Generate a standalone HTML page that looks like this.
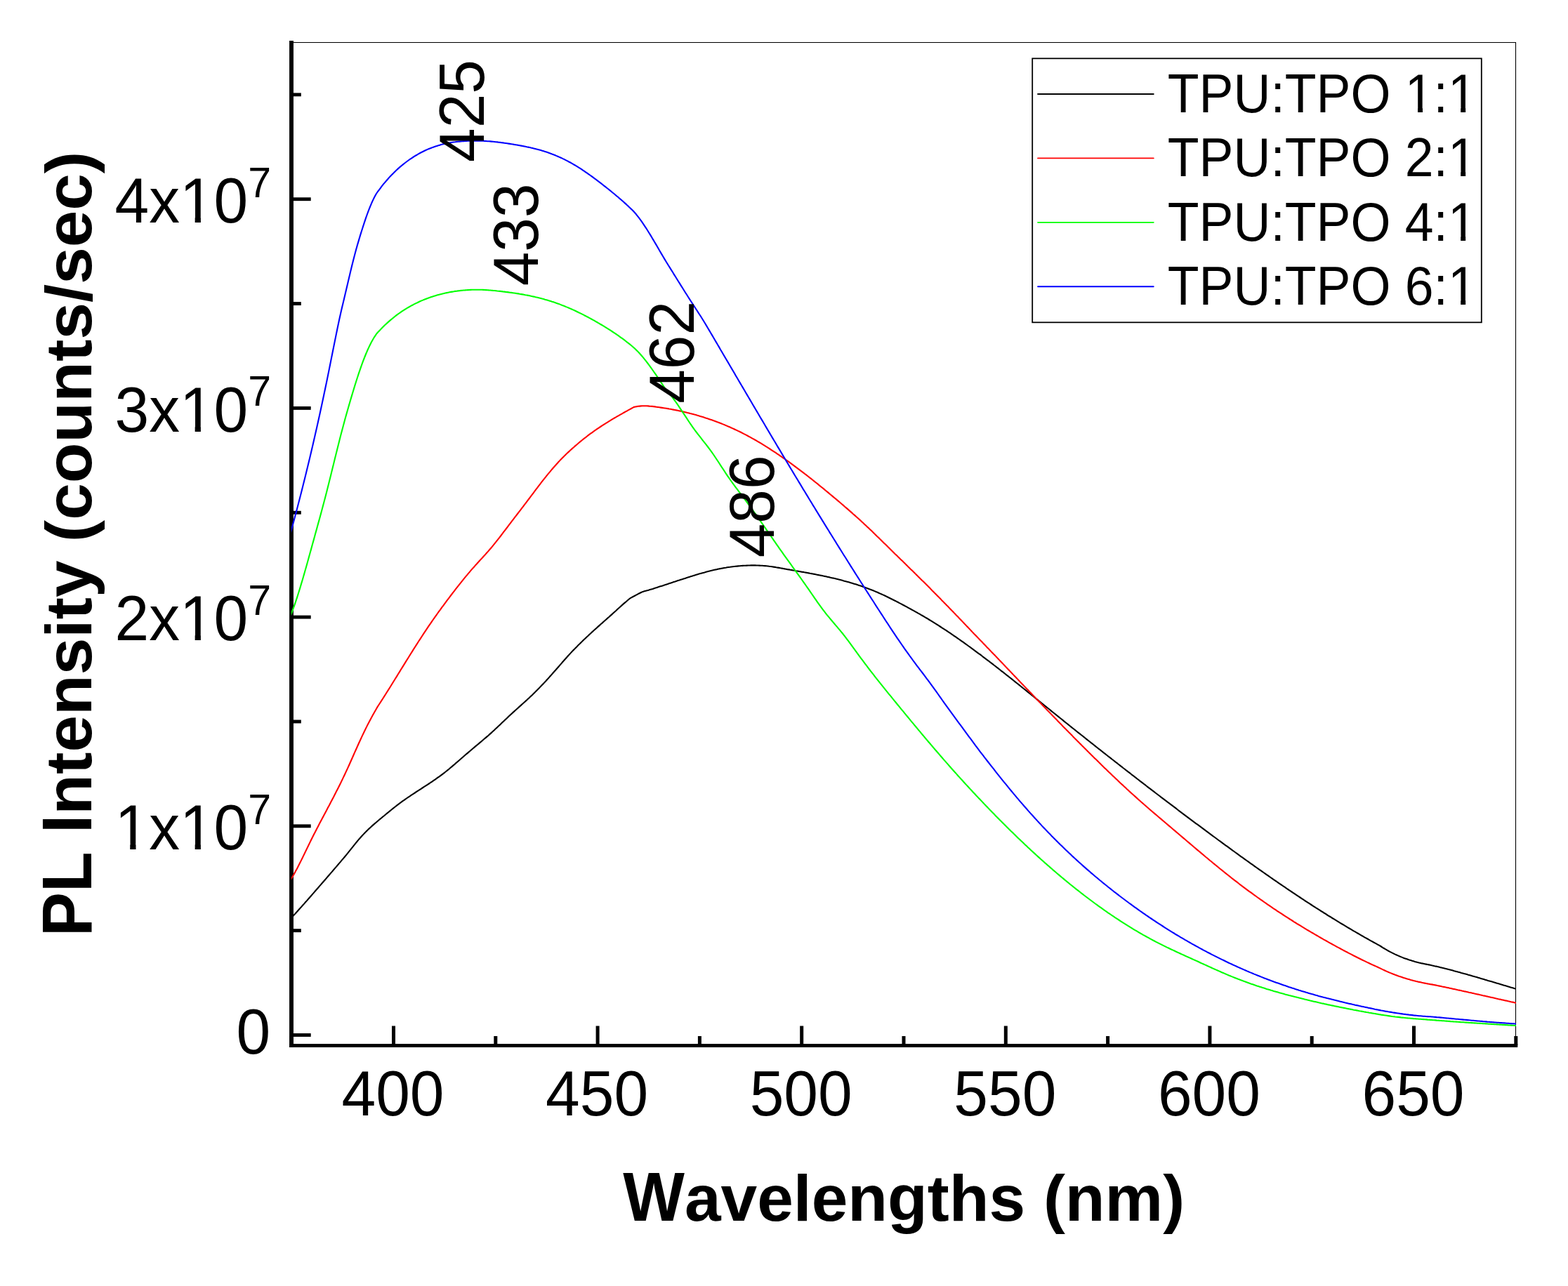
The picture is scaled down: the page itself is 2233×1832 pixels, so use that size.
<!DOCTYPE html>
<html lang="en"><head><meta charset="utf-8"><title>PL Intensity vs Wavelengths</title>
<style>html,body{margin:0;padding:0;background:#fff;}body{width:2233px;height:1832px;overflow:hidden;}svg{display:block;}text{font-family:"Liberation Sans",Arial,Helvetica,sans-serif;fill:#000;font-kerning:none;}.b{font-weight:bold;}</style></head><body>
<svg xmlns="http://www.w3.org/2000/svg" width="2233" height="1832" viewBox="0 0 2233 1832">
<rect x="0" y="0" width="2233" height="1832" fill="#fff"/>
<rect x="415" y="60" width="1744" height="1.05" fill="#000"/>
<rect x="2157.95" y="60" width="1.1" height="1430" fill="#000"/>
<g stroke="#000" fill="none">
<rect x="412.05" y="58" width="5.9" height="1434" fill="#000" stroke="none"/>
<rect x="412.05" y="1487.05" width="1749.2" height="4.9" fill="#000" stroke="none"/>
<line x1="415.0" y1="1474.50" x2="442.7" y2="1474.50" stroke-width="4.9"/>
<line x1="415.0" y1="1325.65" x2="428.8" y2="1325.65" stroke-width="4.9"/>
<line x1="415.0" y1="1176.80" x2="442.7" y2="1176.80" stroke-width="4.9"/>
<line x1="415.0" y1="1027.95" x2="428.8" y2="1027.95" stroke-width="4.9"/>
<line x1="415.0" y1="879.10" x2="442.7" y2="879.10" stroke-width="4.9"/>
<line x1="415.0" y1="730.25" x2="428.8" y2="730.25" stroke-width="4.9"/>
<line x1="415.0" y1="581.40" x2="442.7" y2="581.40" stroke-width="4.9"/>
<line x1="415.0" y1="432.55" x2="428.8" y2="432.55" stroke-width="4.9"/>
<line x1="415.0" y1="283.70" x2="442.7" y2="283.70" stroke-width="4.9"/>
<line x1="415.0" y1="134.85" x2="428.8" y2="134.85" stroke-width="4.9"/>
<line x1="415.20" y1="1476" x2="415.20" y2="1489.5" stroke-width="5"/>
<line x1="560.50" y1="1461.5" x2="560.50" y2="1489.5" stroke-width="5"/>
<line x1="705.80" y1="1476" x2="705.80" y2="1489.5" stroke-width="5"/>
<line x1="851.10" y1="1461.5" x2="851.10" y2="1489.5" stroke-width="5"/>
<line x1="996.40" y1="1476" x2="996.40" y2="1489.5" stroke-width="5"/>
<line x1="1141.70" y1="1461.5" x2="1141.70" y2="1489.5" stroke-width="5"/>
<line x1="1287.00" y1="1476" x2="1287.00" y2="1489.5" stroke-width="5"/>
<line x1="1432.30" y1="1461.5" x2="1432.30" y2="1489.5" stroke-width="5"/>
<line x1="1577.60" y1="1476" x2="1577.60" y2="1489.5" stroke-width="5"/>
<line x1="1722.90" y1="1461.5" x2="1722.90" y2="1489.5" stroke-width="5"/>
<line x1="1868.20" y1="1476" x2="1868.20" y2="1489.5" stroke-width="5"/>
<line x1="2013.50" y1="1461.5" x2="2013.50" y2="1489.5" stroke-width="5"/>
<line x1="2158.80" y1="1476" x2="2158.80" y2="1489.5" stroke-width="5"/>
</g>
<clipPath id="plotclip"><rect x="415" y="55" width="1744" height="1440"/></clipPath>
<g fill="none" stroke-width="2.1" stroke-linejoin="round" clip-path="url(#plotclip)">
<path d="M411.0,1311.8 L415.0,1307.5 L417.0,1305.3 L419.0,1303.1 L421.0,1301.0 L423.0,1298.8 L425.0,1296.5 L427.0,1294.3 L429.0,1292.1 L431.0,1289.8 L433.0,1287.6 L435.0,1285.3 L437.0,1283.1 L439.0,1280.8 L441.0,1278.5 L443.0,1276.2 L445.0,1273.9 L447.0,1271.6 L449.0,1269.3 L451.0,1267.0 L453.0,1264.7 L455.0,1262.4 L457.0,1260.1 L459.0,1257.8 L461.0,1255.5 L463.0,1253.2 L465.0,1250.8 L467.0,1248.5 L469.0,1246.2 L471.0,1243.9 L473.0,1241.6 L475.0,1239.3 L477.0,1236.9 L479.0,1234.6 L481.0,1232.3 L483.0,1229.9 L485.0,1227.6 L487.0,1225.2 L489.0,1222.9 L491.0,1220.5 L493.0,1218.1 L495.0,1215.6 L497.0,1213.2 L499.0,1210.7 L501.0,1208.2 L503.0,1205.7 L505.0,1203.2 L507.0,1200.6 L507.5,1200.0 L509.5,1197.6 L511.5,1195.2 L513.5,1193.0 L515.5,1190.7 L517.5,1188.6 L519.5,1186.5 L521.5,1184.5 L523.5,1182.5 L525.5,1180.6 L527.5,1178.8 L529.5,1176.9 L531.5,1175.1 L533.5,1173.4 L535.5,1171.7 L537.5,1170.0 L539.5,1168.3 L541.5,1166.6 L543.5,1165.0 L545.5,1163.3 L547.5,1161.7 L549.5,1160.0 L551.5,1158.4 L553.5,1156.8 L555.5,1155.1 L557.5,1153.5 L559.5,1151.9 L561.5,1150.3 L563.5,1148.7 L565.5,1147.1 L567.5,1145.6 L569.5,1144.1 L571.5,1142.7 L573.5,1141.2 L575.5,1139.8 L577.5,1138.4 L579.5,1137.0 L581.5,1135.6 L583.5,1134.3 L585.5,1132.9 L587.5,1131.6 L589.5,1130.3 L591.5,1129.0 L593.5,1127.7 L595.5,1126.4 L597.5,1125.1 L599.5,1123.8 L601.5,1122.5 L603.5,1121.2 L605.5,1119.9 L607.5,1118.6 L609.5,1117.3 L611.5,1116.0 L613.5,1114.6 L615.5,1113.3 L617.5,1111.9 L619.5,1110.6 L621.5,1109.2 L623.5,1107.7 L625.5,1106.3 L627.5,1104.8 L629.5,1103.3 L631.5,1101.8 L633.5,1100.3 L635.5,1098.7 L637.5,1097.1 L639.5,1095.5 L641.5,1093.8 L643.5,1092.1 L645.5,1090.4 L647.5,1088.7 L649.5,1086.9 L651.5,1085.2 L653.5,1083.5 L655.5,1081.7 L657.5,1080.0 L659.5,1078.3 L661.5,1076.5 L663.5,1074.8 L665.5,1073.1 L667.5,1071.4 L669.5,1069.7 L671.5,1068.0 L673.5,1066.3 L675.5,1064.6 L677.5,1062.9 L679.5,1061.2 L681.5,1059.6 L683.5,1057.9 L685.5,1056.2 L687.5,1054.5 L689.5,1052.8 L691.5,1051.1 L693.5,1049.4 L695.5,1047.7 L697.5,1045.9 L699.5,1044.1 L701.5,1042.3 L703.5,1040.5 L705.5,1038.6 L707.5,1036.7 L709.5,1034.8 L711.5,1032.9 L713.5,1031.0 L715.5,1029.1 L717.5,1027.2 L719.5,1025.3 L721.5,1023.4 L723.5,1021.5 L725.5,1019.6 L727.5,1017.8 L729.5,1015.9 L731.5,1014.1 L733.5,1012.3 L735.5,1010.5 L737.5,1008.7 L739.5,1006.9 L741.5,1005.1 L743.5,1003.3 L745.5,1001.5 L747.5,999.7 L749.5,997.9 L751.5,996.0 L753.5,994.2 L755.5,992.3 L757.5,990.4 L759.5,988.4 L761.5,986.5 L763.5,984.5 L765.5,982.5 L767.5,980.5 L769.5,978.4 L771.5,976.3 L773.5,974.2 L775.5,972.1 L777.5,970.0 L779.5,967.8 L781.5,965.6 L783.5,963.3 L785.5,961.1 L787.5,958.8 L789.5,956.5 L791.5,954.3 L793.5,952.0 L795.5,949.7 L797.5,947.4 L799.5,945.1 L801.5,942.8 L803.5,940.5 L805.5,938.2 L807.5,936.0 L809.5,933.8 L811.5,931.6 L813.5,929.4 L815.5,927.3 L817.5,925.2 L819.5,923.2 L821.5,921.2 L823.5,919.1 L825.5,917.2 L827.5,915.2 L829.5,913.3 L831.5,911.3 L833.5,909.4 L835.5,907.5 L837.5,905.7 L839.5,903.8 L841.5,902.0 L843.5,900.1 L845.5,898.3 L847.5,896.5 L849.5,894.7 L851.5,892.9 L853.5,891.1 L855.5,889.3 L857.5,887.6 L859.5,885.8 L861.5,884.0 L863.5,882.2 L865.5,880.4 L867.5,878.7 L869.5,876.9 L871.5,875.1 L873.5,873.3 L875.5,871.5 L877.5,869.7 L879.5,867.8 L881.5,866.0 L883.5,864.2 L885.5,862.4 L887.5,860.6 L889.5,858.9 L891.5,857.2 L893.5,855.5 L895.5,853.8 L897.5,852.2 L899.5,851.1 L901.5,850.0 L903.5,849.0 L905.5,847.9 L907.5,846.8 L909.5,845.7 L911.5,844.7 L913.5,843.7 L915.5,842.9 L917.5,842.3 L919.5,841.7 L921.5,841.2 L923.5,840.7 L925.5,840.1 L927.5,839.5 L929.5,838.9 L931.5,838.2 L933.5,837.6 L935.5,836.9 L937.5,836.2 L939.5,835.6 L941.5,835.0 L943.5,834.4 L945.5,833.7 L947.5,833.1 L949.5,832.4 L951.5,831.8 L953.5,831.1 L955.5,830.4 L957.5,829.8 L959.5,829.1 L961.5,828.5 L963.5,827.8 L965.5,827.1 L967.5,826.5 L969.5,825.8 L971.5,825.2 L973.5,824.5 L975.5,823.9 L977.5,823.2 L979.5,822.6 L981.5,821.9 L983.5,821.3 L985.5,820.7 L987.5,820.1 L989.5,819.4 L991.5,818.8 L993.5,818.2 L995.5,817.6 L997.5,817.1 L999.5,816.5 L1001.5,815.9 L1003.5,815.4 L1005.5,814.8 L1007.5,814.3 L1009.5,813.8 L1011.5,813.3 L1013.5,812.8 L1015.5,812.3 L1017.5,811.8 L1019.5,811.4 L1021.5,810.9 L1023.5,810.5 L1025.5,810.1 L1027.5,809.7 L1029.5,809.4 L1031.5,809.0 L1033.5,808.7 L1035.5,808.3 L1037.5,808.0 L1039.5,807.8 L1041.5,807.5 L1043.5,807.2 L1045.5,807.0 L1047.5,806.8 L1049.5,806.6 L1051.5,806.4 L1053.5,806.2 L1055.5,806.0 L1057.5,805.9 L1059.5,805.8 L1061.5,805.7 L1063.5,805.6 L1065.5,805.5 L1067.5,805.5 L1069.5,805.4 L1071.5,805.4 L1073.5,805.4 L1075.5,805.4 L1077.5,805.5 L1079.5,805.5 L1081.5,805.6 L1083.5,805.7 L1085.5,805.8 L1087.5,806.0 L1089.5,806.1 L1091.5,806.3 L1093.5,806.5 L1095.5,806.8 L1097.5,807.0 L1099.5,807.3 L1101.5,807.6 L1103.5,807.9 L1105.5,808.3 L1107.5,808.6 L1109.5,808.9 L1111.5,809.3 L1113.5,809.6 L1115.5,810.0 L1117.5,810.4 L1119.5,810.7 L1121.5,811.1 L1123.5,811.4 L1125.5,811.8 L1127.5,812.1 L1129.5,812.5 L1131.5,812.8 L1133.5,813.2 L1135.5,813.5 L1137.5,813.9 L1139.5,814.2 L1141.5,814.6 L1143.5,814.9 L1145.5,815.3 L1147.5,815.6 L1149.5,816.0 L1151.5,816.4 L1153.5,816.8 L1155.5,817.1 L1157.5,817.5 L1159.5,817.9 L1161.5,818.3 L1163.5,818.7 L1165.5,819.1 L1167.5,819.5 L1169.5,819.9 L1171.5,820.3 L1173.5,820.7 L1175.5,821.1 L1177.5,821.6 L1179.5,822.0 L1181.5,822.4 L1183.5,822.9 L1185.5,823.4 L1187.5,823.8 L1189.5,824.3 L1191.5,824.8 L1193.5,825.3 L1195.5,825.8 L1197.5,826.3 L1199.5,826.8 L1201.5,827.4 L1203.5,827.9 L1205.5,828.4 L1207.5,829.0 L1209.5,829.6 L1211.5,830.2 L1213.5,830.8 L1215.5,831.4 L1217.5,832.0 L1219.5,832.6 L1221.5,833.3 L1223.5,833.9 L1225.5,834.6 L1227.5,835.3 L1229.5,836.0 L1231.5,836.7 L1233.5,837.4 L1235.5,838.2 L1237.5,839.0 L1239.5,839.7 L1241.5,840.5 L1243.5,841.3 L1245.5,842.1 L1247.5,843.0 L1249.5,843.8 L1251.5,844.7 L1253.5,845.6 L1255.5,846.5 L1257.5,847.4 L1259.5,848.3 L1261.5,849.3 L1263.5,850.2 L1265.5,851.2 L1267.5,852.2 L1269.5,853.2 L1271.5,854.2 L1273.5,855.2 L1275.5,856.2 L1277.5,857.3 L1279.5,858.3 L1281.5,859.4 L1283.5,860.4 L1285.5,861.5 L1287.5,862.5 L1289.5,863.6 L1291.5,864.7 L1293.5,865.8 L1295.5,866.9 L1297.5,868.0 L1299.5,869.1 L1301.5,870.2 L1303.5,871.3 L1305.5,872.4 L1307.5,873.6 L1309.5,874.7 L1311.5,875.9 L1313.5,877.0 L1315.5,878.2 L1317.5,879.4 L1319.5,880.5 L1321.5,881.7 L1323.5,883.0 L1325.5,884.2 L1327.5,885.4 L1329.5,886.6 L1331.5,887.9 L1333.5,889.1 L1335.5,890.4 L1337.5,891.7 L1339.5,893.0 L1341.5,894.3 L1343.5,895.6 L1345.5,896.9 L1347.5,898.2 L1349.5,899.5 L1351.5,900.9 L1353.5,902.2 L1355.5,903.6 L1357.5,905.0 L1359.5,906.3 L1361.5,907.7 L1363.5,909.1 L1365.5,910.5 L1367.5,911.9 L1369.5,913.3 L1371.5,914.7 L1373.5,916.2 L1375.5,917.6 L1377.5,919.0 L1379.5,920.5 L1381.5,921.9 L1383.5,923.4 L1385.5,924.8 L1387.5,926.3 L1389.5,927.8 L1391.5,929.3 L1393.5,930.8 L1395.5,932.2 L1397.5,933.7 L1399.5,935.3 L1401.5,936.8 L1403.5,938.3 L1405.5,939.8 L1407.5,941.3 L1409.5,942.9 L1411.5,944.4 L1413.5,945.9 L1415.5,947.5 L1417.5,949.0 L1419.5,950.6 L1421.5,952.1 L1423.5,953.7 L1425.5,955.3 L1427.5,956.8 L1429.5,958.4 L1431.5,960.0 L1433.5,961.6 L1435.5,963.1 L1437.5,964.7 L1439.5,966.3 L1441.5,967.9 L1443.5,969.5 L1445.5,971.1 L1447.5,972.7 L1449.5,974.3 L1451.5,975.9 L1453.5,977.5 L1455.5,979.1 L1457.5,980.7 L1459.5,982.3 L1461.5,983.9 L1463.5,985.6 L1465.5,987.2 L1467.5,988.8 L1469.5,990.4 L1471.5,992.0 L1473.5,993.6 L1475.5,995.3 L1477.5,996.9 L1479.5,998.5 L1481.5,1000.1 L1483.5,1001.7 L1485.5,1003.4 L1487.5,1005.0 L1489.5,1006.6 L1491.5,1008.2 L1493.5,1009.8 L1495.5,1011.4 L1497.5,1013.1 L1499.5,1014.7 L1501.5,1016.3 L1503.5,1017.9 L1505.5,1019.5 L1507.5,1021.1 L1509.5,1022.7 L1511.5,1024.3 L1513.5,1025.9 L1515.5,1027.6 L1517.5,1029.2 L1519.5,1030.8 L1521.5,1032.4 L1523.5,1034.0 L1525.5,1035.6 L1527.5,1037.2 L1529.5,1038.8 L1531.5,1040.4 L1533.5,1042.0 L1535.5,1043.6 L1537.5,1045.1 L1539.5,1046.7 L1541.5,1048.3 L1543.5,1049.9 L1545.5,1051.5 L1547.5,1053.1 L1549.5,1054.7 L1551.5,1056.3 L1553.5,1057.9 L1555.5,1059.4 L1557.5,1061.0 L1559.5,1062.6 L1561.5,1064.2 L1563.5,1065.8 L1565.5,1067.3 L1567.5,1068.9 L1569.5,1070.5 L1571.5,1072.1 L1573.5,1073.6 L1575.5,1075.2 L1577.5,1076.8 L1579.5,1078.3 L1581.5,1079.9 L1583.5,1081.5 L1585.5,1083.0 L1587.5,1084.6 L1589.5,1086.2 L1591.5,1087.7 L1593.5,1089.3 L1595.5,1090.9 L1597.5,1092.4 L1599.5,1094.0 L1601.5,1095.5 L1603.5,1097.1 L1605.5,1098.6 L1607.5,1100.2 L1609.5,1101.7 L1611.5,1103.3 L1613.5,1104.8 L1615.5,1106.4 L1617.5,1107.9 L1619.5,1109.5 L1621.5,1111.0 L1623.5,1112.6 L1625.5,1114.1 L1627.5,1115.6 L1629.5,1117.2 L1631.5,1118.7 L1633.5,1120.3 L1635.5,1121.8 L1637.5,1123.3 L1639.5,1124.9 L1641.5,1126.4 L1643.5,1127.9 L1645.5,1129.5 L1647.5,1131.0 L1649.5,1132.5 L1651.5,1134.0 L1653.5,1135.6 L1655.5,1137.1 L1657.5,1138.6 L1659.5,1140.1 L1661.5,1141.6 L1663.5,1143.2 L1665.5,1144.7 L1667.5,1146.2 L1669.5,1147.7 L1671.5,1149.2 L1673.5,1150.7 L1675.5,1152.2 L1677.5,1153.8 L1679.5,1155.3 L1681.5,1156.8 L1683.5,1158.3 L1685.5,1159.8 L1687.5,1161.3 L1689.5,1162.8 L1691.5,1164.3 L1693.5,1165.8 L1695.5,1167.3 L1697.5,1168.8 L1699.5,1170.3 L1701.5,1171.8 L1703.5,1173.3 L1705.5,1174.7 L1707.5,1176.2 L1709.5,1177.7 L1711.5,1179.2 L1713.5,1180.7 L1715.5,1182.2 L1717.5,1183.7 L1719.5,1185.1 L1721.5,1186.6 L1723.5,1188.1 L1725.5,1189.6 L1727.5,1191.1 L1729.5,1192.5 L1731.5,1194.0 L1733.5,1195.5 L1735.5,1197.0 L1737.5,1198.4 L1739.5,1199.9 L1741.5,1201.4 L1743.5,1202.8 L1745.5,1204.3 L1747.5,1205.7 L1749.5,1207.2 L1751.5,1208.7 L1753.5,1210.1 L1755.5,1211.6 L1757.5,1213.0 L1759.5,1214.5 L1761.5,1215.9 L1763.5,1217.4 L1765.5,1218.8 L1767.5,1220.3 L1769.5,1221.7 L1771.5,1223.1 L1773.5,1224.6 L1775.5,1226.0 L1777.5,1227.4 L1779.5,1228.9 L1781.5,1230.3 L1783.5,1231.7 L1785.5,1233.1 L1787.5,1234.6 L1789.5,1236.0 L1791.5,1237.4 L1793.5,1238.8 L1795.5,1240.2 L1797.5,1241.6 L1799.5,1243.0 L1801.5,1244.4 L1803.5,1245.8 L1805.5,1247.2 L1807.5,1248.6 L1809.5,1250.0 L1811.5,1251.4 L1813.5,1252.8 L1815.5,1254.2 L1817.5,1255.5 L1819.5,1256.9 L1821.5,1258.3 L1823.5,1259.7 L1825.5,1261.0 L1827.5,1262.4 L1829.5,1263.7 L1831.5,1265.1 L1833.5,1266.5 L1835.5,1267.8 L1837.5,1269.2 L1839.5,1270.5 L1841.5,1271.8 L1843.5,1273.2 L1845.5,1274.5 L1847.5,1275.9 L1849.5,1277.2 L1851.5,1278.5 L1853.5,1279.8 L1855.5,1281.1 L1857.5,1282.5 L1859.5,1283.8 L1861.5,1285.1 L1863.5,1286.4 L1865.5,1287.7 L1867.5,1289.0 L1869.5,1290.3 L1871.5,1291.6 L1873.5,1292.9 L1875.5,1294.1 L1877.5,1295.4 L1879.5,1296.7 L1881.5,1298.0 L1883.5,1299.2 L1885.5,1300.5 L1887.5,1301.7 L1889.5,1303.0 L1891.5,1304.3 L1893.5,1305.5 L1895.5,1306.7 L1897.5,1308.0 L1899.5,1309.2 L1901.5,1310.4 L1903.5,1311.7 L1905.5,1312.9 L1907.5,1314.1 L1909.5,1315.3 L1911.5,1316.5 L1913.5,1317.7 L1915.5,1318.9 L1917.5,1320.1 L1919.5,1321.3 L1921.5,1322.5 L1923.5,1323.7 L1925.5,1324.9 L1927.5,1326.1 L1929.5,1327.2 L1931.5,1328.4 L1933.5,1329.5 L1935.5,1330.7 L1937.5,1331.9 L1939.5,1333.0 L1941.5,1334.1 L1943.5,1335.3 L1945.5,1336.4 L1947.5,1337.5 L1949.5,1338.7 L1951.5,1339.8 L1953.5,1340.9 L1955.5,1342.0 L1957.5,1343.1 L1959.5,1344.2 L1961.5,1345.3 L1963.5,1346.4 L1965.0,1347.2 L1967.0,1348.5 L1969.0,1349.8 L1971.0,1351.0 L1973.0,1352.2 L1975.0,1353.3 L1977.0,1354.5 L1979.0,1355.6 L1981.0,1356.6 L1983.0,1357.6 L1985.0,1358.6 L1987.0,1359.6 L1989.0,1360.5 L1991.0,1361.4 L1993.0,1362.3 L1995.0,1363.1 L1997.0,1363.9 L1999.0,1364.7 L2001.0,1365.4 L2003.0,1366.1 L2005.0,1366.8 L2007.0,1367.5 L2009.0,1368.1 L2011.0,1368.7 L2013.0,1369.3 L2015.0,1369.9 L2017.0,1370.4 L2019.0,1371.0 L2021.0,1371.5 L2023.0,1371.9 L2025.0,1372.4 L2027.0,1372.8 L2029.0,1373.2 L2031.0,1373.6 L2033.0,1374.0 L2035.0,1374.4 L2037.0,1374.8 L2039.0,1375.3 L2041.0,1375.7 L2043.0,1376.2 L2045.0,1376.6 L2047.0,1377.1 L2049.0,1377.6 L2051.0,1378.1 L2053.0,1378.5 L2055.0,1379.0 L2057.0,1379.5 L2059.0,1380.0 L2061.0,1380.5 L2063.0,1381.1 L2065.0,1381.6 L2067.0,1382.1 L2069.0,1382.6 L2071.0,1383.2 L2073.0,1383.7 L2075.0,1384.2 L2077.0,1384.8 L2079.0,1385.3 L2081.0,1385.9 L2083.0,1386.4 L2085.0,1387.0 L2087.0,1387.5 L2089.0,1388.1 L2091.0,1388.7 L2093.0,1389.2 L2095.0,1389.8 L2097.0,1390.4 L2099.0,1391.0 L2101.0,1391.6 L2103.0,1392.1 L2105.0,1392.7 L2107.0,1393.3 L2109.0,1393.9 L2111.0,1394.5 L2113.0,1395.1 L2115.0,1395.7 L2117.0,1396.3 L2119.0,1396.9 L2121.0,1397.4 L2123.0,1398.0 L2125.0,1398.6 L2127.0,1399.2 L2129.0,1399.8 L2131.0,1400.4 L2133.0,1401.0 L2135.0,1401.6 L2137.0,1402.2 L2139.0,1402.8 L2141.0,1403.4 L2143.0,1404.0 L2145.0,1404.6 L2147.0,1405.2 L2149.0,1405.8 L2151.0,1406.4 L2153.0,1407.0 L2155.0,1407.6 L2157.0,1408.2 L2158.5,1408.6 L2162.5,1409.8" stroke="#000"/>
<path d="M411.0,1258.1 L415.0,1251.5 L417.0,1248.2 L419.0,1244.7 L421.0,1241.1 L423.0,1237.4 L425.0,1233.5 L427.0,1229.6 L429.0,1225.6 L431.0,1221.5 L433.0,1217.4 L435.0,1213.3 L437.0,1209.1 L439.0,1205.0 L441.0,1200.9 L443.0,1196.8 L445.0,1192.8 L447.0,1188.8 L449.0,1184.9 L451.0,1181.0 L453.0,1177.2 L455.0,1173.3 L457.0,1169.5 L459.0,1165.7 L461.0,1162.0 L463.0,1158.2 L465.0,1154.4 L467.0,1150.6 L469.0,1146.9 L471.0,1143.1 L473.0,1139.2 L475.0,1135.4 L477.0,1131.5 L479.0,1127.6 L481.0,1123.7 L483.0,1119.7 L485.0,1115.7 L487.0,1111.6 L489.0,1107.4 L491.0,1103.2 L493.0,1098.9 L495.0,1094.6 L497.0,1090.2 L499.0,1085.7 L501.0,1081.3 L503.0,1076.8 L505.0,1072.2 L507.0,1067.8 L509.0,1063.3 L511.0,1058.8 L513.0,1054.5 L515.0,1050.1 L517.0,1045.9 L519.0,1041.7 L521.0,1037.6 L523.0,1033.6 L525.0,1029.8 L527.0,1026.0 L529.0,1022.2 L531.0,1018.6 L533.0,1015.0 L535.0,1011.4 L537.0,1007.9 L539.0,1004.8 L541.0,1001.7 L543.0,998.6 L545.0,995.5 L547.0,992.4 L549.0,989.2 L551.0,986.0 L553.0,982.9 L555.0,979.7 L557.0,976.5 L559.0,973.2 L561.0,970.0 L563.0,966.8 L565.0,963.6 L567.0,960.3 L569.0,957.1 L571.0,953.8 L573.0,950.6 L575.0,947.4 L577.0,944.1 L579.0,940.9 L581.0,937.7 L583.0,934.5 L585.0,931.3 L587.0,928.1 L589.0,924.9 L591.0,921.7 L593.0,918.6 L595.0,915.5 L597.0,912.3 L599.0,909.3 L601.0,906.2 L603.0,903.1 L605.0,900.1 L607.0,897.1 L609.0,894.1 L611.0,891.2 L613.0,888.3 L615.0,885.4 L617.0,882.5 L619.0,879.6 L621.0,876.8 L623.0,874.0 L625.0,871.2 L627.0,868.5 L629.0,865.7 L631.0,863.0 L633.0,860.3 L635.0,857.6 L637.0,854.9 L639.0,852.3 L641.0,849.6 L643.0,847.0 L645.0,844.4 L647.0,841.8 L649.0,839.2 L651.0,836.7 L653.0,834.1 L655.0,831.6 L657.0,829.1 L659.0,826.6 L661.0,824.2 L663.0,821.7 L665.0,819.3 L667.0,816.9 L669.0,814.6 L671.0,812.2 L673.0,809.9 L675.0,807.7 L677.0,805.4 L679.0,803.2 L681.0,801.0 L683.0,798.8 L685.0,796.6 L687.0,794.5 L689.0,792.3 L691.0,790.1 L693.0,787.8 L695.0,785.6 L697.0,783.3 L699.0,781.0 L701.0,778.6 L703.0,776.2 L705.0,773.7 L707.0,771.2 L709.0,768.7 L711.0,766.1 L713.0,763.5 L715.0,760.9 L717.0,758.2 L719.0,755.6 L721.0,753.0 L723.0,750.3 L725.0,747.7 L727.0,745.0 L729.0,742.4 L731.0,739.8 L733.0,737.2 L735.0,734.6 L737.0,732.0 L739.0,729.4 L741.0,726.8 L743.0,724.2 L745.0,721.5 L747.0,718.9 L749.0,716.3 L751.0,713.6 L753.0,711.0 L755.0,708.3 L757.0,705.7 L759.0,703.0 L761.0,700.4 L763.0,697.7 L765.0,695.1 L767.0,692.4 L769.0,689.8 L771.0,687.2 L773.0,684.7 L775.0,682.1 L777.0,679.6 L779.0,677.1 L781.0,674.7 L783.0,672.3 L785.0,669.9 L787.0,667.5 L789.0,665.2 L791.0,663.0 L793.0,660.7 L795.0,658.5 L797.0,656.4 L799.0,654.3 L801.0,652.2 L803.0,650.2 L805.0,648.3 L807.0,646.3 L809.0,644.4 L811.0,642.6 L813.0,640.7 L815.0,638.9 L817.0,637.2 L819.0,635.4 L821.0,633.7 L823.0,632.0 L825.0,630.3 L827.0,628.6 L829.0,627.0 L831.0,625.4 L833.0,623.8 L835.0,622.3 L837.0,620.7 L839.0,619.2 L841.0,617.7 L843.0,616.3 L845.0,614.8 L847.0,613.4 L849.0,612.0 L851.0,610.7 L853.0,609.3 L855.0,608.0 L857.0,606.7 L859.0,605.4 L861.0,604.1 L863.0,602.8 L865.0,601.6 L867.0,600.3 L869.0,599.1 L871.0,597.9 L873.0,596.7 L875.0,595.5 L877.0,594.4 L879.0,593.2 L881.0,592.1 L883.0,590.9 L885.0,589.8 L887.0,588.7 L889.0,587.5 L891.0,586.4 L893.0,585.3 L895.0,584.2 L897.0,583.1 L899.0,582.0 L901.0,580.9 L902.8,579.9 L904.8,579.5 L906.8,579.1 L908.8,578.8 L910.8,578.6 L912.8,578.4 L914.8,578.3 L916.8,578.2 L918.8,578.2 L920.8,578.3 L922.8,578.4 L924.8,578.6 L926.8,578.7 L928.8,578.9 L930.8,579.1 L932.8,579.4 L934.8,579.7 L936.8,580.0 L937.0,580.0 L939.0,580.3 L941.0,580.6 L943.0,580.9 L945.0,581.2 L947.0,581.5 L949.0,581.8 L951.0,582.1 L953.0,582.5 L955.0,582.8 L957.0,583.2 L959.0,583.6 L961.0,584.0 L963.0,584.4 L965.0,584.8 L967.0,585.2 L969.0,585.6 L971.0,586.1 L973.0,586.5 L975.0,587.0 L977.0,587.5 L979.0,588.0 L981.0,588.4 L983.0,589.0 L985.0,589.5 L987.0,590.0 L989.0,590.6 L991.0,591.1 L993.0,591.7 L995.0,592.3 L997.0,592.9 L999.0,593.5 L1001.0,594.1 L1003.0,594.7 L1005.0,595.4 L1007.0,596.0 L1009.0,596.7 L1011.0,597.4 L1013.0,598.1 L1015.0,598.8 L1017.0,599.5 L1019.0,600.2 L1021.0,601.0 L1023.0,601.7 L1025.0,602.5 L1027.0,603.3 L1029.0,604.1 L1031.0,604.9 L1033.0,605.8 L1035.0,606.6 L1037.0,607.5 L1039.0,608.3 L1041.0,609.2 L1043.0,610.1 L1045.0,611.0 L1047.0,612.0 L1049.0,612.9 L1051.0,613.9 L1053.0,614.8 L1055.0,615.8 L1057.0,616.8 L1059.0,617.9 L1061.0,618.9 L1063.0,619.9 L1065.0,621.0 L1067.0,622.1 L1069.0,623.2 L1071.0,624.3 L1073.0,625.4 L1075.0,626.5 L1077.0,627.7 L1079.0,628.9 L1081.0,630.0 L1083.0,631.2 L1085.0,632.4 L1087.0,633.7 L1089.0,634.9 L1091.0,636.2 L1093.0,637.4 L1095.0,638.7 L1097.0,640.0 L1099.0,641.3 L1101.0,642.6 L1103.0,643.9 L1105.0,645.2 L1107.0,646.6 L1109.0,647.9 L1111.0,649.3 L1113.0,650.7 L1115.0,652.1 L1117.0,653.5 L1119.0,654.9 L1121.0,656.3 L1123.0,657.7 L1125.0,659.2 L1127.0,660.6 L1129.0,662.1 L1131.0,663.6 L1133.0,665.1 L1135.0,666.6 L1137.0,668.1 L1139.0,669.6 L1141.0,671.1 L1143.0,672.6 L1145.0,674.1 L1147.0,675.7 L1149.0,677.2 L1151.0,678.8 L1153.0,680.4 L1155.0,681.9 L1157.0,683.5 L1159.0,685.1 L1161.0,686.7 L1163.0,688.3 L1165.0,689.9 L1167.0,691.6 L1169.0,693.2 L1171.0,694.8 L1173.0,696.4 L1175.0,698.1 L1177.0,699.7 L1179.0,701.4 L1181.0,703.1 L1183.0,704.7 L1185.0,706.4 L1187.0,708.1 L1189.0,709.7 L1191.0,711.4 L1193.0,713.1 L1195.0,714.8 L1197.0,716.5 L1199.0,718.2 L1201.0,719.9 L1203.0,721.7 L1205.0,723.4 L1207.0,725.1 L1209.0,726.9 L1211.0,728.6 L1213.0,730.4 L1215.0,732.2 L1217.0,733.9 L1219.0,735.7 L1221.0,737.5 L1223.0,739.3 L1225.0,741.1 L1227.0,743.0 L1229.0,744.8 L1231.0,746.7 L1233.0,748.5 L1235.0,750.4 L1237.0,752.3 L1239.0,754.2 L1241.0,756.1 L1243.0,758.0 L1245.0,760.0 L1247.0,761.9 L1249.0,763.9 L1251.0,765.8 L1253.0,767.8 L1255.0,769.7 L1257.0,771.7 L1259.0,773.7 L1261.0,775.6 L1263.0,777.6 L1265.0,779.6 L1267.0,781.5 L1269.0,783.5 L1271.0,785.4 L1273.0,787.4 L1275.0,789.4 L1277.0,791.3 L1279.0,793.3 L1281.0,795.2 L1283.0,797.2 L1285.0,799.1 L1287.0,801.1 L1289.0,803.0 L1291.0,805.0 L1293.0,807.0 L1295.0,808.9 L1297.0,810.9 L1299.0,812.8 L1301.0,814.8 L1303.0,816.8 L1305.0,818.7 L1307.0,820.7 L1309.0,822.7 L1311.0,824.7 L1313.0,826.7 L1315.0,828.6 L1317.0,830.6 L1319.0,832.6 L1321.0,834.6 L1323.0,836.6 L1325.0,838.6 L1327.0,840.7 L1329.0,842.7 L1331.0,844.7 L1333.0,846.7 L1335.0,848.8 L1337.0,850.8 L1339.0,852.8 L1341.0,854.9 L1343.0,856.9 L1345.0,859.0 L1347.0,861.0 L1349.0,863.1 L1351.0,865.1 L1353.0,867.2 L1355.0,869.3 L1357.0,871.3 L1359.0,873.4 L1361.0,875.5 L1363.0,877.6 L1365.0,879.6 L1367.0,881.7 L1369.0,883.8 L1371.0,885.9 L1373.0,888.0 L1375.0,890.1 L1377.0,892.2 L1379.0,894.3 L1381.0,896.4 L1383.0,898.5 L1385.0,900.6 L1387.0,902.7 L1389.0,904.7 L1391.0,906.8 L1393.0,908.9 L1395.0,911.0 L1397.0,913.1 L1399.0,915.1 L1401.0,917.2 L1403.0,919.3 L1405.0,921.4 L1407.0,923.4 L1409.0,925.5 L1411.0,927.6 L1413.0,929.7 L1415.0,931.8 L1417.0,933.8 L1419.0,935.9 L1421.0,938.0 L1423.0,940.1 L1425.0,942.2 L1427.0,944.3 L1429.0,946.4 L1431.0,948.5 L1433.0,950.6 L1435.0,952.7 L1437.0,954.8 L1439.0,956.9 L1441.0,959.0 L1443.0,961.1 L1445.0,963.2 L1447.0,965.3 L1449.0,967.4 L1451.0,969.5 L1453.0,971.6 L1455.0,973.7 L1457.0,975.8 L1459.0,977.9 L1461.0,980.0 L1463.0,982.1 L1465.0,984.1 L1467.0,986.2 L1469.0,988.3 L1471.0,990.4 L1473.0,992.5 L1475.0,994.6 L1477.0,996.7 L1479.0,998.7 L1481.0,1000.8 L1483.0,1002.9 L1485.0,1005.0 L1487.0,1007.0 L1489.0,1009.1 L1491.0,1011.2 L1493.0,1013.3 L1495.0,1015.3 L1497.0,1017.4 L1499.0,1019.5 L1501.0,1021.5 L1503.0,1023.6 L1505.0,1025.6 L1507.0,1027.7 L1509.0,1029.8 L1511.0,1031.8 L1513.0,1033.9 L1515.0,1035.9 L1517.0,1037.9 L1519.0,1040.0 L1521.0,1042.0 L1523.0,1044.1 L1525.0,1046.1 L1527.0,1048.1 L1529.0,1050.2 L1531.0,1052.2 L1533.0,1054.2 L1535.0,1056.2 L1537.0,1058.2 L1539.0,1060.2 L1541.0,1062.3 L1543.0,1064.3 L1545.0,1066.3 L1547.0,1068.3 L1549.0,1070.3 L1551.0,1072.2 L1553.0,1074.2 L1555.0,1076.2 L1557.0,1078.2 L1559.0,1080.2 L1561.0,1082.1 L1563.0,1084.1 L1565.0,1086.1 L1567.0,1088.0 L1569.0,1090.0 L1571.0,1091.9 L1573.0,1093.9 L1575.0,1095.8 L1577.0,1097.7 L1579.0,1099.7 L1581.0,1101.6 L1583.0,1103.5 L1585.0,1105.4 L1587.0,1107.3 L1589.0,1109.2 L1591.0,1111.1 L1593.0,1113.0 L1595.0,1114.9 L1597.0,1116.8 L1599.0,1118.6 L1601.0,1120.5 L1603.0,1122.3 L1605.0,1124.2 L1607.0,1126.0 L1609.0,1127.9 L1611.0,1129.7 L1613.0,1131.5 L1615.0,1133.3 L1617.0,1135.1 L1619.0,1136.9 L1621.0,1138.7 L1623.0,1140.5 L1625.0,1142.3 L1627.0,1144.0 L1629.0,1145.8 L1631.0,1147.5 L1633.0,1149.3 L1635.0,1151.0 L1637.0,1152.8 L1639.0,1154.5 L1641.0,1156.2 L1643.0,1157.9 L1645.0,1159.6 L1647.0,1161.3 L1649.0,1163.0 L1651.0,1164.7 L1653.0,1166.4 L1655.0,1168.1 L1657.0,1169.8 L1659.0,1171.5 L1661.0,1173.2 L1663.0,1174.9 L1665.0,1176.6 L1667.0,1178.3 L1669.0,1180.0 L1671.0,1181.7 L1673.0,1183.4 L1675.0,1185.1 L1677.0,1186.8 L1679.0,1188.5 L1681.0,1190.2 L1683.0,1191.9 L1685.0,1193.6 L1687.0,1195.3 L1689.0,1197.0 L1691.0,1198.7 L1693.0,1200.4 L1695.0,1202.1 L1697.0,1203.8 L1699.0,1205.5 L1701.0,1207.2 L1703.0,1208.9 L1705.0,1210.6 L1707.0,1212.3 L1709.0,1213.9 L1711.0,1215.6 L1713.0,1217.3 L1715.0,1219.0 L1717.0,1220.7 L1719.0,1222.3 L1721.0,1224.0 L1723.0,1225.7 L1725.0,1227.3 L1727.0,1229.0 L1729.0,1230.6 L1731.0,1232.3 L1733.0,1233.9 L1735.0,1235.5 L1737.0,1237.2 L1739.0,1238.8 L1741.0,1240.4 L1743.0,1242.0 L1745.0,1243.6 L1747.0,1245.2 L1749.0,1246.8 L1751.0,1248.4 L1753.0,1250.0 L1755.0,1251.6 L1757.0,1253.1 L1759.0,1254.7 L1761.0,1256.2 L1763.0,1257.7 L1765.0,1259.3 L1767.0,1260.8 L1769.0,1262.3 L1771.0,1263.8 L1773.0,1265.3 L1775.0,1266.8 L1777.0,1268.3 L1779.0,1269.8 L1781.0,1271.2 L1783.0,1272.7 L1785.0,1274.2 L1787.0,1275.6 L1789.0,1277.0 L1791.0,1278.5 L1793.0,1279.9 L1795.0,1281.3 L1797.0,1282.7 L1799.0,1284.1 L1801.0,1285.5 L1803.0,1286.9 L1805.0,1288.3 L1807.0,1289.7 L1809.0,1291.0 L1811.0,1292.4 L1813.0,1293.8 L1815.0,1295.1 L1817.0,1296.4 L1819.0,1297.8 L1821.0,1299.1 L1823.0,1300.4 L1825.0,1301.7 L1827.0,1303.0 L1829.0,1304.3 L1831.0,1305.6 L1833.0,1306.9 L1835.0,1308.2 L1837.0,1309.5 L1839.0,1310.7 L1841.0,1312.0 L1843.0,1313.3 L1845.0,1314.5 L1847.0,1315.8 L1849.0,1317.0 L1851.0,1318.2 L1853.0,1319.4 L1855.0,1320.7 L1857.0,1321.9 L1859.0,1323.1 L1861.0,1324.3 L1863.0,1325.5 L1865.0,1326.7 L1867.0,1327.9 L1869.0,1329.0 L1871.0,1330.2 L1873.0,1331.4 L1875.0,1332.5 L1877.0,1333.7 L1879.0,1334.8 L1881.0,1336.0 L1883.0,1337.1 L1885.0,1338.3 L1887.0,1339.4 L1889.0,1340.5 L1891.0,1341.7 L1893.0,1342.8 L1895.0,1343.9 L1897.0,1345.0 L1899.0,1346.1 L1901.0,1347.2 L1903.0,1348.3 L1905.0,1349.4 L1907.0,1350.4 L1909.0,1351.5 L1911.0,1352.6 L1913.0,1353.7 L1915.0,1354.7 L1917.0,1355.8 L1919.0,1356.8 L1921.0,1357.9 L1923.0,1358.9 L1925.0,1359.9 L1927.0,1361.0 L1929.0,1362.0 L1931.0,1363.0 L1933.0,1364.0 L1935.0,1365.0 L1937.0,1366.0 L1939.0,1367.0 L1941.0,1368.0 L1943.0,1368.9 L1945.0,1369.9 L1947.0,1370.9 L1949.0,1371.8 L1951.0,1372.8 L1953.0,1373.7 L1955.0,1374.6 L1957.0,1375.5 L1959.0,1376.4 L1961.0,1377.3 L1963.0,1378.2 L1965.0,1379.1 L1967.0,1380.1 L1969.0,1381.1 L1971.0,1382.0 L1973.0,1383.0 L1975.0,1383.9 L1977.0,1384.7 L1979.0,1385.6 L1981.0,1386.4 L1983.0,1387.2 L1985.0,1388.0 L1987.0,1388.8 L1989.0,1389.5 L1991.0,1390.3 L1993.0,1391.0 L1995.0,1391.6 L1997.0,1392.3 L1999.0,1393.0 L2001.0,1393.6 L2003.0,1394.2 L2005.0,1394.8 L2007.0,1395.3 L2009.0,1395.9 L2011.0,1396.4 L2013.0,1397.0 L2015.0,1397.5 L2017.0,1398.0 L2019.0,1398.4 L2021.0,1398.9 L2023.0,1399.3 L2025.0,1399.8 L2027.0,1400.2 L2029.0,1400.6 L2031.0,1401.0 L2033.0,1401.4 L2035.0,1401.7 L2037.0,1402.1 L2039.0,1402.4 L2040.0,1402.6 L2042.0,1403.0 L2044.0,1403.4 L2046.0,1403.8 L2048.0,1404.2 L2050.0,1404.6 L2052.0,1405.0 L2054.0,1405.5 L2056.0,1405.9 L2058.0,1406.3 L2060.0,1406.7 L2062.0,1407.1 L2064.0,1407.6 L2066.0,1408.0 L2068.0,1408.4 L2070.0,1408.9 L2072.0,1409.3 L2074.0,1409.7 L2076.0,1410.2 L2078.0,1410.6 L2080.0,1411.0 L2082.0,1411.5 L2084.0,1411.9 L2086.0,1412.4 L2088.0,1412.8 L2090.0,1413.2 L2092.0,1413.7 L2094.0,1414.1 L2096.0,1414.6 L2098.0,1415.0 L2100.0,1415.5 L2102.0,1415.9 L2104.0,1416.4 L2106.0,1416.8 L2108.0,1417.3 L2110.0,1417.7 L2112.0,1418.2 L2114.0,1418.6 L2116.0,1419.1 L2118.0,1419.5 L2120.0,1420.0 L2122.0,1420.4 L2124.0,1420.9 L2126.0,1421.3 L2128.0,1421.8 L2130.0,1422.3 L2132.0,1422.7 L2134.0,1423.2 L2136.0,1423.6 L2138.0,1424.1 L2140.0,1424.5 L2142.0,1424.9 L2144.0,1425.4 L2146.0,1425.8 L2148.0,1426.3 L2150.0,1426.7 L2152.0,1427.2 L2154.0,1427.6 L2156.0,1428.1 L2158.0,1428.5 L2158.5,1428.6 L2162.5,1429.5" stroke="#f00"/>
<path d="M411.0,884.6 L415.0,874.0 L417.0,868.7 L419.0,863.2 L421.0,857.3 L423.0,851.3 L425.0,845.0 L427.0,838.6 L429.0,831.9 L431.0,825.2 L433.0,818.3 L435.0,811.3 L437.0,804.2 L439.0,797.0 L441.0,789.8 L443.0,782.6 L445.0,775.3 L447.0,768.1 L449.0,760.8 L451.0,753.6 L453.0,746.3 L455.0,739.1 L457.0,731.7 L459.0,724.3 L461.0,716.8 L463.0,709.2 L465.0,701.4 L467.0,693.5 L469.0,685.5 L471.0,677.4 L473.0,669.3 L475.0,661.2 L477.0,653.0 L479.0,645.0 L481.0,636.9 L483.0,629.0 L485.0,621.1 L487.0,613.4 L489.0,605.9 L491.0,598.5 L493.0,591.3 L495.0,584.2 L497.0,577.3 L499.0,570.4 L501.0,563.6 L503.0,557.0 L505.0,550.4 L507.0,544.0 L509.0,537.8 L511.0,531.7 L513.0,525.8 L515.0,520.1 L517.0,514.7 L519.0,509.5 L521.0,504.5 L523.0,499.8 L525.0,495.4 L527.0,491.2 L529.0,487.3 L531.0,483.7 L533.0,480.3 L535.0,477.3 L536.2,475.5 L538.2,473.3 L540.2,471.2 L542.2,469.1 L544.2,467.0 L546.2,465.0 L548.2,463.1 L550.2,461.2 L552.2,459.4 L554.2,457.6 L556.2,455.9 L558.2,454.2 L560.2,452.6 L562.2,451.0 L564.2,449.4 L566.2,447.9 L568.2,446.5 L570.2,445.1 L572.2,443.7 L574.2,442.4 L576.2,441.1 L578.2,439.8 L580.2,438.6 L582.2,437.5 L584.2,436.3 L586.2,435.2 L588.2,434.2 L590.2,433.1 L592.2,432.1 L594.2,431.2 L596.2,430.2 L598.2,429.3 L600.2,428.4 L602.2,427.6 L604.2,426.8 L606.2,426.0 L608.2,425.2 L610.2,424.5 L612.2,423.8 L614.2,423.1 L616.2,422.4 L618.2,421.8 L620.2,421.2 L622.2,420.6 L624.2,420.0 L626.2,419.5 L628.2,419.0 L630.2,418.5 L632.2,418.0 L634.2,417.5 L636.2,417.1 L638.2,416.7 L640.2,416.3 L642.2,415.9 L644.2,415.6 L646.2,415.3 L648.2,414.9 L650.2,414.7 L652.2,414.4 L654.2,414.2 L656.2,413.9 L658.2,413.7 L660.2,413.5 L662.2,413.4 L664.2,413.2 L666.2,413.1 L668.2,413.0 L670.2,412.9 L672.2,412.8 L674.2,412.8 L676.2,412.7 L678.2,412.7 L680.2,412.7 L682.2,412.7 L684.2,412.8 L686.2,412.8 L688.2,412.9 L690.2,413.0 L692.2,413.1 L694.2,413.2 L696.2,413.4 L698.2,413.5 L700.2,413.7 L702.2,413.9 L704.2,414.0 L706.2,414.2 L708.2,414.5 L710.2,414.7 L712.2,414.9 L714.2,415.1 L716.2,415.4 L718.2,415.6 L720.2,415.9 L722.2,416.1 L724.2,416.4 L726.2,416.7 L728.2,416.9 L730.2,417.2 L732.2,417.5 L734.2,417.8 L736.2,418.1 L738.2,418.4 L740.2,418.8 L742.2,419.1 L744.2,419.4 L746.2,419.8 L748.2,420.2 L750.2,420.5 L752.2,420.9 L754.2,421.3 L756.2,421.8 L758.2,422.2 L760.2,422.6 L762.2,423.1 L764.2,423.5 L766.2,424.0 L768.2,424.5 L770.2,425.0 L772.2,425.6 L774.2,426.1 L776.2,426.7 L778.2,427.2 L780.2,427.8 L782.2,428.4 L784.2,429.0 L786.2,429.7 L788.2,430.3 L790.2,431.0 L792.2,431.7 L794.2,432.4 L796.2,433.1 L798.2,433.9 L800.2,434.7 L802.2,435.4 L804.2,436.2 L806.2,437.1 L808.2,437.9 L810.2,438.7 L812.2,439.6 L814.2,440.5 L816.2,441.4 L818.2,442.3 L820.2,443.2 L822.2,444.2 L824.2,445.2 L826.2,446.1 L828.2,447.1 L830.2,448.1 L832.2,449.2 L834.2,450.2 L836.2,451.3 L838.2,452.3 L840.2,453.4 L842.2,454.5 L844.2,455.6 L846.2,456.7 L848.2,457.9 L850.2,459.0 L852.2,460.2 L854.2,461.3 L856.2,462.5 L858.2,463.7 L860.2,464.9 L862.2,466.1 L864.2,467.4 L866.2,468.6 L868.2,469.9 L870.2,471.2 L872.2,472.5 L874.2,473.8 L876.2,475.2 L878.2,476.5 L880.2,477.9 L882.2,479.3 L884.2,480.8 L886.2,482.2 L888.2,483.7 L890.2,485.2 L892.2,486.8 L894.2,488.3 L896.2,489.9 L898.2,491.5 L900.0,493.0 L902.0,494.7 L904.0,496.5 L906.0,498.4 L908.0,500.4 L910.0,502.5 L912.0,504.7 L914.0,507.0 L916.0,509.4 L918.0,511.8 L920.0,514.4 L922.0,517.0 L924.0,519.7 L926.0,522.4 L928.0,525.2 L930.0,528.0 L932.0,530.9 L934.0,533.7 L936.0,536.7 L938.0,539.6 L940.0,542.6 L942.0,545.6 L944.0,548.6 L946.0,551.5 L948.0,554.5 L950.0,557.5 L952.0,559.6 L954.0,561.8 L956.0,564.2 L958.0,566.7 L960.0,569.4 L962.0,572.1 L964.0,574.9 L966.0,577.8 L968.0,580.8 L970.0,583.8 L972.0,586.8 L974.0,589.8 L976.0,592.9 L978.0,595.9 L980.0,599.0 L982.0,602.0 L984.0,604.9 L986.0,607.8 L988.0,610.6 L990.0,613.4 L992.0,616.0 L994.0,618.6 L996.0,621.2 L998.0,623.7 L1000.0,626.3 L1002.0,628.8 L1004.0,631.3 L1006.0,633.9 L1008.0,636.5 L1010.0,639.2 L1012.0,641.9 L1014.0,644.7 L1016.0,647.5 L1018.0,650.5 L1020.0,653.5 L1022.0,656.5 L1024.0,659.5 L1026.0,662.6 L1028.0,665.7 L1030.0,668.7 L1032.0,671.8 L1034.0,674.8 L1036.0,677.8 L1038.0,680.7 L1040.0,683.5 L1042.0,686.4 L1044.0,689.1 L1046.0,691.8 L1048.0,694.5 L1050.0,697.2 L1052.0,699.8 L1054.0,702.5 L1056.0,705.1 L1058.0,707.8 L1060.0,710.4 L1062.0,713.1 L1064.0,715.8 L1066.0,718.5 L1068.0,721.2 L1070.0,724.0 L1072.0,726.8 L1074.0,729.6 L1076.0,732.4 L1078.0,735.2 L1080.0,738.1 L1082.0,740.9 L1084.0,743.8 L1086.0,746.7 L1088.0,749.5 L1090.0,752.4 L1092.0,755.3 L1094.0,758.2 L1096.0,761.1 L1098.0,764.0 L1100.0,766.9 L1102.0,769.8 L1104.0,772.7 L1106.0,775.6 L1108.0,778.4 L1110.0,781.3 L1112.0,784.1 L1114.0,786.9 L1116.0,789.8 L1118.0,792.6 L1120.0,795.4 L1122.0,798.2 L1124.0,800.9 L1126.0,803.7 L1128.0,806.5 L1130.0,809.3 L1132.0,812.0 L1134.0,814.8 L1136.0,817.6 L1138.0,820.4 L1140.0,823.2 L1142.0,826.0 L1144.0,828.8 L1146.0,831.6 L1148.0,834.5 L1150.0,837.4 L1152.0,840.2 L1154.0,843.1 L1156.0,846.0 L1158.0,848.9 L1160.0,851.8 L1162.0,854.7 L1164.0,857.6 L1166.0,860.4 L1168.0,863.2 L1170.0,865.9 L1172.0,868.6 L1174.0,871.2 L1176.0,873.8 L1178.0,876.3 L1180.0,878.7 L1182.0,881.1 L1184.0,883.5 L1186.0,885.9 L1188.0,888.2 L1190.0,890.6 L1192.0,892.9 L1194.0,895.3 L1196.0,897.6 L1198.0,900.1 L1200.0,902.5 L1202.0,905.1 L1204.0,907.6 L1206.0,910.3 L1208.0,912.9 L1210.0,915.6 L1212.0,918.3 L1214.0,921.1 L1216.0,923.8 L1218.0,926.6 L1220.0,929.3 L1222.0,932.1 L1224.0,934.8 L1226.0,937.5 L1228.0,940.2 L1230.0,942.9 L1232.0,945.6 L1234.0,948.2 L1236.0,950.9 L1238.0,953.5 L1240.0,956.1 L1242.0,958.7 L1244.0,961.2 L1246.0,963.8 L1248.0,966.3 L1250.0,968.9 L1252.0,971.4 L1254.0,973.9 L1256.0,976.4 L1258.0,978.9 L1260.0,981.4 L1262.0,983.8 L1264.0,986.3 L1266.0,988.8 L1268.0,991.2 L1270.0,993.7 L1272.0,996.1 L1274.0,998.6 L1276.0,1001.0 L1278.0,1003.5 L1280.0,1005.9 L1282.0,1008.4 L1284.0,1010.8 L1286.0,1013.2 L1288.0,1015.7 L1290.0,1018.1 L1292.0,1020.5 L1294.0,1022.9 L1296.0,1025.4 L1298.0,1027.8 L1300.0,1030.2 L1302.0,1032.6 L1304.0,1035.0 L1306.0,1037.4 L1308.0,1039.8 L1310.0,1042.2 L1312.0,1044.6 L1314.0,1047.0 L1316.0,1049.4 L1318.0,1051.7 L1320.0,1054.1 L1322.0,1056.5 L1324.0,1058.8 L1326.0,1061.2 L1328.0,1063.5 L1330.0,1065.9 L1332.0,1068.2 L1334.0,1070.5 L1336.0,1072.8 L1338.0,1075.2 L1340.0,1077.5 L1342.0,1079.8 L1344.0,1082.1 L1346.0,1084.4 L1348.0,1086.6 L1350.0,1088.9 L1352.0,1091.2 L1354.0,1093.5 L1356.0,1095.7 L1358.0,1098.0 L1360.0,1100.2 L1362.0,1102.4 L1364.0,1104.7 L1366.0,1106.9 L1368.0,1109.1 L1370.0,1111.3 L1372.0,1113.5 L1374.0,1115.7 L1376.0,1117.9 L1378.0,1120.0 L1380.0,1122.2 L1382.0,1124.4 L1384.0,1126.5 L1386.0,1128.7 L1388.0,1130.8 L1390.0,1133.0 L1392.0,1135.1 L1394.0,1137.2 L1396.0,1139.3 L1398.0,1141.4 L1400.0,1143.5 L1402.0,1145.6 L1404.0,1147.7 L1406.0,1149.8 L1408.0,1151.9 L1410.0,1154.0 L1412.0,1156.0 L1414.0,1158.1 L1416.0,1160.1 L1418.0,1162.2 L1420.0,1164.2 L1422.0,1166.2 L1424.0,1168.3 L1426.0,1170.3 L1428.0,1172.3 L1430.0,1174.3 L1432.0,1176.3 L1434.0,1178.3 L1436.0,1180.2 L1438.0,1182.2 L1440.0,1184.2 L1442.0,1186.1 L1444.0,1188.1 L1446.0,1190.0 L1448.0,1192.0 L1450.0,1193.9 L1452.0,1195.8 L1454.0,1197.7 L1456.0,1199.6 L1458.0,1201.5 L1460.0,1203.4 L1462.0,1205.3 L1464.0,1207.2 L1466.0,1209.0 L1468.0,1210.9 L1470.0,1212.8 L1472.0,1214.6 L1474.0,1216.4 L1476.0,1218.3 L1478.0,1220.1 L1480.0,1221.9 L1482.0,1223.7 L1484.0,1225.5 L1486.0,1227.3 L1488.0,1229.1 L1490.0,1230.8 L1492.0,1232.6 L1494.0,1234.3 L1496.0,1236.1 L1498.0,1237.8 L1500.0,1239.6 L1502.0,1241.3 L1504.0,1243.0 L1506.0,1244.7 L1508.0,1246.4 L1510.0,1248.1 L1512.0,1249.8 L1514.0,1251.4 L1516.0,1253.1 L1518.0,1254.7 L1520.0,1256.4 L1522.0,1258.0 L1524.0,1259.7 L1526.0,1261.3 L1528.0,1262.9 L1530.0,1264.5 L1532.0,1266.1 L1534.0,1267.7 L1536.0,1269.2 L1538.0,1270.8 L1540.0,1272.4 L1542.0,1273.9 L1544.0,1275.5 L1546.0,1277.0 L1548.0,1278.5 L1550.0,1280.0 L1552.0,1281.5 L1554.0,1283.0 L1556.0,1284.5 L1558.0,1286.0 L1560.0,1287.5 L1562.0,1288.9 L1564.0,1290.4 L1566.0,1291.8 L1568.0,1293.2 L1570.0,1294.7 L1572.0,1296.1 L1574.0,1297.5 L1576.0,1298.9 L1578.0,1300.3 L1580.0,1301.6 L1582.0,1303.0 L1584.0,1304.4 L1586.0,1305.7 L1588.0,1307.1 L1590.0,1308.4 L1592.0,1309.7 L1594.0,1311.0 L1596.0,1312.3 L1598.0,1313.6 L1600.0,1314.9 L1602.0,1316.1 L1604.0,1317.4 L1606.0,1318.7 L1608.0,1319.9 L1610.0,1321.1 L1612.0,1322.3 L1614.0,1323.6 L1616.0,1324.8 L1618.0,1325.9 L1620.0,1327.1 L1622.0,1328.3 L1624.0,1329.5 L1626.0,1330.6 L1628.0,1331.8 L1630.0,1332.9 L1632.0,1334.0 L1634.0,1335.1 L1636.0,1336.2 L1638.0,1337.3 L1640.0,1338.4 L1642.0,1339.5 L1644.0,1340.5 L1646.0,1341.6 L1648.0,1342.6 L1650.0,1343.6 L1652.0,1344.6 L1654.0,1345.6 L1656.0,1346.6 L1658.0,1347.6 L1660.0,1348.6 L1662.0,1349.6 L1664.0,1350.5 L1666.0,1351.5 L1668.0,1352.5 L1670.0,1353.4 L1672.0,1354.3 L1674.0,1355.3 L1676.0,1356.2 L1678.0,1357.1 L1680.0,1358.0 L1682.0,1359.0 L1684.0,1359.9 L1686.0,1360.8 L1688.0,1361.7 L1690.0,1362.6 L1692.0,1363.5 L1694.0,1364.4 L1696.0,1365.3 L1698.0,1366.2 L1700.0,1367.1 L1702.0,1368.0 L1704.0,1368.9 L1706.0,1369.8 L1708.0,1370.7 L1710.0,1371.7 L1712.0,1372.6 L1714.0,1373.5 L1716.0,1374.4 L1718.0,1375.3 L1720.0,1376.2 L1722.0,1377.1 L1724.0,1378.0 L1726.0,1379.0 L1728.0,1379.9 L1730.0,1380.8 L1732.0,1381.6 L1734.0,1382.5 L1736.0,1383.4 L1738.0,1384.3 L1740.0,1385.2 L1742.0,1386.0 L1744.0,1386.9 L1746.0,1387.8 L1748.0,1388.6 L1750.0,1389.5 L1752.0,1390.3 L1754.0,1391.1 L1756.0,1391.9 L1758.0,1392.7 L1760.0,1393.5 L1762.0,1394.3 L1764.0,1395.1 L1766.0,1395.8 L1768.0,1396.6 L1770.0,1397.3 L1772.0,1398.1 L1774.0,1398.8 L1776.0,1399.5 L1778.0,1400.2 L1780.0,1401.0 L1782.0,1401.7 L1784.0,1402.3 L1786.0,1403.0 L1788.0,1403.7 L1790.0,1404.4 L1792.0,1405.0 L1794.0,1405.7 L1796.0,1406.3 L1798.0,1407.0 L1800.0,1407.6 L1802.0,1408.2 L1804.0,1408.9 L1806.0,1409.5 L1808.0,1410.1 L1810.0,1410.7 L1812.0,1411.3 L1814.0,1411.9 L1816.0,1412.4 L1818.0,1413.0 L1820.0,1413.6 L1822.0,1414.2 L1824.0,1414.7 L1826.0,1415.3 L1828.0,1415.8 L1830.0,1416.4 L1832.0,1416.9 L1834.0,1417.4 L1836.0,1418.0 L1838.0,1418.5 L1840.0,1419.0 L1842.0,1419.5 L1844.0,1420.1 L1846.0,1420.6 L1848.0,1421.1 L1850.0,1421.6 L1852.0,1422.1 L1854.0,1422.6 L1856.0,1423.1 L1858.0,1423.6 L1860.0,1424.0 L1862.0,1424.5 L1864.0,1425.0 L1866.0,1425.5 L1868.0,1425.9 L1870.0,1426.4 L1872.0,1426.9 L1874.0,1427.3 L1876.0,1427.8 L1878.0,1428.3 L1880.0,1428.7 L1882.0,1429.2 L1884.0,1429.6 L1886.0,1430.1 L1888.0,1430.5 L1890.0,1430.9 L1892.0,1431.4 L1894.0,1431.8 L1896.0,1432.2 L1898.0,1432.6 L1900.0,1433.1 L1902.0,1433.5 L1904.0,1433.9 L1906.0,1434.3 L1908.0,1434.7 L1910.0,1435.1 L1912.0,1435.5 L1914.0,1435.9 L1916.0,1436.3 L1918.0,1436.7 L1920.0,1437.1 L1922.0,1437.5 L1924.0,1437.9 L1926.0,1438.3 L1928.0,1438.7 L1930.0,1439.0 L1932.0,1439.4 L1934.0,1439.8 L1936.0,1440.2 L1938.0,1440.5 L1940.0,1440.9 L1942.0,1441.3 L1944.0,1441.6 L1946.0,1442.0 L1948.0,1442.3 L1950.0,1442.7 L1952.0,1443.0 L1954.0,1443.4 L1956.0,1443.7 L1958.0,1444.0 L1960.0,1444.4 L1962.0,1444.7 L1964.0,1445.1 L1965.0,1445.2 L1967.0,1445.6 L1969.0,1445.9 L1971.0,1446.2 L1973.0,1446.5 L1975.0,1446.8 L1977.0,1447.1 L1979.0,1447.4 L1981.0,1447.7 L1983.0,1448.0 L1985.0,1448.2 L1987.0,1448.5 L1989.0,1448.7 L1991.0,1448.9 L1993.0,1449.1 L1995.0,1449.4 L1997.0,1449.6 L1999.0,1449.8 L2001.0,1450.0 L2003.0,1450.2 L2005.0,1450.4 L2007.0,1450.5 L2009.0,1450.7 L2011.0,1450.9 L2013.0,1451.1 L2015.0,1451.2 L2017.0,1451.4 L2019.0,1451.5 L2021.0,1451.7 L2023.0,1451.8 L2025.0,1452.0 L2027.0,1452.1 L2029.0,1452.3 L2031.0,1452.4 L2033.0,1452.6 L2035.0,1452.7 L2037.0,1452.9 L2039.0,1453.0 L2040.0,1453.1 L2042.0,1453.2 L2044.0,1453.4 L2046.0,1453.6 L2048.0,1453.7 L2050.0,1453.9 L2052.0,1454.0 L2054.0,1454.2 L2056.0,1454.3 L2058.0,1454.5 L2060.0,1454.6 L2062.0,1454.8 L2064.0,1454.9 L2066.0,1455.1 L2068.0,1455.2 L2070.0,1455.4 L2072.0,1455.5 L2074.0,1455.6 L2076.0,1455.8 L2078.0,1455.9 L2080.0,1456.1 L2082.0,1456.2 L2084.0,1456.3 L2086.0,1456.5 L2088.0,1456.6 L2090.0,1456.7 L2092.0,1456.9 L2094.0,1457.0 L2096.0,1457.1 L2098.0,1457.3 L2100.0,1457.4 L2102.0,1457.5 L2104.0,1457.7 L2106.0,1457.8 L2108.0,1457.9 L2110.0,1458.0 L2112.0,1458.2 L2114.0,1458.3 L2116.0,1458.4 L2118.0,1458.5 L2120.0,1458.7 L2122.0,1458.8 L2124.0,1458.9 L2126.0,1459.0 L2128.0,1459.2 L2130.0,1459.3 L2132.0,1459.4 L2134.0,1459.5 L2136.0,1459.6 L2138.0,1459.8 L2140.0,1459.9 L2142.0,1460.0 L2144.0,1460.1 L2146.0,1460.2 L2148.0,1460.4 L2150.0,1460.5 L2152.0,1460.6 L2154.0,1460.7 L2156.0,1460.8 L2158.0,1461.0 L2158.5,1461.0 L2162.5,1461.2" stroke="#0f0"/>
<path d="M411.0,769.8 L415.0,755.0 L417.0,747.6 L419.0,740.1 L421.0,732.6 L423.0,725.0 L425.0,717.3 L427.0,709.5 L429.0,701.7 L431.0,693.8 L433.0,685.8 L435.0,677.7 L437.0,669.5 L439.0,661.3 L441.0,652.9 L443.0,644.5 L445.0,636.0 L447.0,627.3 L449.0,618.6 L451.0,609.7 L453.0,600.8 L455.0,591.7 L457.0,582.5 L459.0,573.3 L461.0,563.8 L463.0,554.3 L465.0,544.7 L467.0,534.9 L469.0,525.0 L471.0,515.0 L473.0,505.0 L475.0,495.0 L477.0,485.1 L479.0,475.2 L481.0,465.5 L483.0,456.0 L485.0,446.9 L487.0,438.2 L489.0,429.9 L491.0,421.6 L493.0,413.1 L495.0,404.6 L497.0,396.1 L499.0,387.6 L501.0,379.3 L503.0,371.2 L505.0,363.5 L507.0,356.0 L509.0,348.9 L511.0,342.1 L513.0,335.4 L515.0,329.0 L517.0,322.7 L519.0,316.6 L521.0,310.7 L523.0,305.0 L525.0,299.7 L527.0,294.6 L529.0,289.8 L531.0,285.4 L533.0,281.3 L535.0,277.6 L536.2,275.5 L538.2,272.7 L540.2,270.0 L542.2,267.3 L544.2,264.7 L546.2,262.2 L548.2,259.8 L550.2,257.5 L552.2,255.2 L554.2,252.9 L556.2,250.8 L558.2,248.7 L560.2,246.7 L562.2,244.7 L564.2,242.8 L566.2,240.9 L568.2,239.1 L570.2,237.4 L572.2,235.7 L574.2,234.1 L576.2,232.5 L578.2,231.0 L580.2,229.5 L582.2,228.0 L584.2,226.6 L586.2,225.3 L588.2,224.0 L590.2,222.7 L592.2,221.5 L594.2,220.3 L596.2,219.1 L598.2,218.0 L600.2,217.0 L602.2,216.0 L604.2,215.0 L606.2,214.0 L608.2,213.1 L610.2,212.3 L612.2,211.5 L614.2,210.7 L616.2,209.9 L618.2,209.2 L620.2,208.5 L622.2,207.9 L624.2,207.3 L626.2,206.7 L628.2,206.1 L630.2,205.6 L632.2,205.1 L634.2,204.7 L636.2,204.3 L638.2,203.9 L640.2,203.5 L642.2,203.1 L644.2,202.8 L646.2,202.5 L648.2,202.3 L650.2,202.0 L652.2,201.8 L654.2,201.6 L656.2,201.4 L658.2,201.2 L660.2,201.1 L662.2,201.0 L664.2,200.9 L666.2,200.8 L668.2,200.7 L670.2,200.7 L672.2,200.6 L674.2,200.6 L676.2,200.6 L678.2,200.6 L680.2,200.6 L682.2,200.6 L684.2,200.7 L686.2,200.8 L688.2,200.8 L690.2,200.9 L692.2,201.0 L694.2,201.2 L696.2,201.3 L698.2,201.4 L700.2,201.6 L702.2,201.8 L704.2,202.0 L706.2,202.2 L708.2,202.4 L710.2,202.7 L712.2,202.9 L714.2,203.2 L716.2,203.4 L718.2,203.7 L720.2,204.0 L722.2,204.3 L724.2,204.6 L726.2,204.9 L728.2,205.2 L730.2,205.5 L732.2,205.9 L734.2,206.2 L736.2,206.5 L738.2,206.9 L740.2,207.2 L742.2,207.6 L744.2,208.0 L746.2,208.4 L748.2,208.7 L750.2,209.2 L752.2,209.6 L754.2,210.0 L756.2,210.5 L758.2,210.9 L760.2,211.4 L762.2,211.9 L764.2,212.4 L766.2,212.9 L768.2,213.5 L770.2,214.1 L772.2,214.7 L774.2,215.3 L776.2,215.9 L778.2,216.6 L780.2,217.3 L782.2,218.0 L784.2,218.7 L786.2,219.5 L788.2,220.2 L790.2,221.0 L792.2,221.9 L794.2,222.7 L796.2,223.6 L798.2,224.5 L800.2,225.4 L802.2,226.4 L804.2,227.3 L806.2,228.4 L808.2,229.4 L810.2,230.5 L812.2,231.5 L814.2,232.7 L816.2,233.8 L818.2,235.0 L820.2,236.2 L822.2,237.4 L824.2,238.7 L826.2,239.9 L828.2,241.2 L830.2,242.6 L832.2,243.9 L834.2,245.3 L836.2,246.7 L838.2,248.1 L840.2,249.5 L842.2,250.9 L844.2,252.4 L846.2,253.9 L848.2,255.3 L850.2,256.9 L852.2,258.4 L854.2,259.9 L856.2,261.4 L858.2,263.0 L860.2,264.6 L862.2,266.1 L864.2,267.7 L866.2,269.3 L868.2,270.9 L870.2,272.5 L872.2,274.2 L874.2,275.8 L876.2,277.5 L878.2,279.2 L880.2,280.8 L882.2,282.6 L884.2,284.3 L886.2,286.0 L888.2,287.8 L890.2,289.6 L892.2,291.4 L894.2,293.3 L896.2,295.2 L898.2,297.1 L900.0,298.7 L902.0,300.8 L904.0,303.0 L906.0,305.3 L908.0,307.8 L910.0,310.4 L912.0,313.1 L914.0,315.9 L916.0,318.8 L918.0,321.8 L920.0,324.8 L922.0,328.0 L924.0,331.2 L926.0,334.4 L928.0,337.8 L930.0,341.1 L932.0,344.5 L934.0,347.9 L936.0,351.3 L938.0,354.7 L940.0,358.2 L942.0,361.6 L944.0,365.0 L946.0,368.4 L948.0,371.7 L950.0,375.0 L952.0,378.2 L954.0,381.4 L956.0,384.6 L958.0,387.8 L960.0,391.1 L962.0,394.3 L964.0,397.5 L966.0,400.7 L968.0,403.9 L970.0,407.1 L972.0,410.3 L974.0,413.5 L976.0,416.7 L978.0,419.8 L980.0,423.0 L982.0,426.1 L984.0,429.2 L986.0,432.3 L988.0,435.4 L990.0,438.5 L992.0,441.5 L994.0,444.6 L996.0,447.7 L998.0,450.8 L1000.0,454.0 L1002.0,457.2 L1004.0,460.5 L1006.0,463.9 L1008.0,467.2 L1010.0,470.6 L1012.0,474.0 L1014.0,477.4 L1016.0,480.8 L1018.0,484.2 L1020.0,487.6 L1022.0,491.0 L1024.0,494.4 L1026.0,497.9 L1028.0,501.3 L1030.0,504.7 L1032.0,508.1 L1034.0,511.5 L1036.0,514.9 L1038.0,518.3 L1040.0,521.7 L1042.0,525.1 L1044.0,528.5 L1046.0,531.9 L1048.0,535.4 L1050.0,538.8 L1052.0,542.2 L1054.0,545.6 L1056.0,549.0 L1058.0,552.4 L1060.0,555.8 L1062.0,559.2 L1064.0,562.6 L1066.0,566.0 L1068.0,569.4 L1070.0,572.8 L1072.0,576.2 L1074.0,579.6 L1076.0,583.0 L1078.0,586.4 L1080.0,589.8 L1082.0,593.2 L1084.0,596.6 L1086.0,599.9 L1088.0,603.3 L1090.0,606.7 L1092.0,610.1 L1094.0,613.5 L1096.0,616.9 L1098.0,620.2 L1100.0,623.6 L1102.0,627.0 L1104.0,630.3 L1106.0,633.7 L1108.0,637.1 L1110.0,640.4 L1112.0,643.8 L1114.0,647.1 L1116.0,650.5 L1118.0,653.8 L1120.0,657.2 L1122.0,660.5 L1124.0,663.9 L1126.0,667.2 L1128.0,670.5 L1130.0,673.9 L1132.0,677.2 L1134.0,680.5 L1136.0,683.8 L1138.0,687.1 L1140.0,690.4 L1142.0,693.7 L1144.0,697.1 L1146.0,700.3 L1148.0,703.6 L1150.0,706.9 L1152.0,710.2 L1154.0,713.5 L1156.0,716.8 L1158.0,720.1 L1160.0,723.3 L1162.0,726.6 L1164.0,729.9 L1166.0,733.1 L1168.0,736.4 L1170.0,739.6 L1172.0,742.9 L1174.0,746.1 L1176.0,749.4 L1178.0,752.6 L1180.0,755.8 L1182.0,759.1 L1184.0,762.3 L1186.0,765.5 L1188.0,768.7 L1190.0,771.9 L1192.0,775.2 L1194.0,778.4 L1196.0,781.6 L1198.0,784.8 L1200.0,788.0 L1202.0,791.2 L1204.0,794.3 L1206.0,797.5 L1208.0,800.7 L1210.0,803.9 L1212.0,807.1 L1214.0,810.2 L1216.0,813.4 L1218.0,816.6 L1220.0,819.7 L1222.0,822.9 L1224.0,826.0 L1226.0,829.2 L1228.0,832.3 L1230.0,835.5 L1232.0,838.6 L1234.0,841.7 L1236.0,844.9 L1238.0,848.0 L1240.0,851.1 L1242.0,854.2 L1244.0,857.3 L1246.0,860.5 L1248.0,863.6 L1250.0,866.7 L1252.0,869.8 L1254.0,872.9 L1256.0,875.9 L1258.0,879.0 L1260.0,882.1 L1262.0,885.2 L1264.0,888.2 L1266.0,891.3 L1268.0,894.3 L1270.0,897.3 L1272.0,900.3 L1274.0,903.3 L1276.0,906.3 L1278.0,909.3 L1280.0,912.2 L1282.0,915.1 L1284.0,918.0 L1286.0,920.9 L1288.0,923.8 L1290.0,926.6 L1292.0,929.4 L1294.0,932.2 L1296.0,935.0 L1298.0,937.7 L1300.0,940.5 L1302.0,943.2 L1304.0,945.8 L1306.0,948.5 L1308.0,951.1 L1310.0,953.8 L1312.0,956.4 L1314.0,959.0 L1316.0,961.7 L1318.0,964.3 L1320.0,967.0 L1322.0,969.7 L1324.0,972.4 L1326.0,975.1 L1328.0,977.9 L1330.0,980.6 L1332.0,983.4 L1334.0,986.2 L1336.0,989.0 L1338.0,991.9 L1340.0,994.7 L1342.0,997.5 L1344.0,1000.3 L1346.0,1003.1 L1348.0,1005.9 L1350.0,1008.6 L1352.0,1011.4 L1354.0,1014.2 L1356.0,1016.9 L1358.0,1019.6 L1360.0,1022.3 L1362.0,1025.1 L1364.0,1027.8 L1366.0,1030.5 L1368.0,1033.2 L1370.0,1035.9 L1372.0,1038.6 L1374.0,1041.4 L1376.0,1044.1 L1378.0,1046.8 L1380.0,1049.5 L1382.0,1052.2 L1384.0,1054.9 L1386.0,1057.6 L1388.0,1060.3 L1390.0,1063.0 L1392.0,1065.7 L1394.0,1068.3 L1396.0,1071.0 L1398.0,1073.6 L1400.0,1076.2 L1402.0,1078.8 L1404.0,1081.4 L1406.0,1084.0 L1408.0,1086.5 L1410.0,1089.1 L1412.0,1091.7 L1414.0,1094.2 L1416.0,1096.7 L1418.0,1099.3 L1420.0,1101.8 L1422.0,1104.3 L1424.0,1106.8 L1426.0,1109.3 L1428.0,1111.8 L1430.0,1114.3 L1432.0,1116.7 L1434.0,1119.2 L1436.0,1121.6 L1438.0,1124.1 L1440.0,1126.5 L1442.0,1128.9 L1444.0,1131.3 L1446.0,1133.7 L1448.0,1136.1 L1450.0,1138.4 L1452.0,1140.8 L1454.0,1143.1 L1456.0,1145.4 L1458.0,1147.7 L1460.0,1150.0 L1462.0,1152.3 L1464.0,1154.6 L1466.0,1156.9 L1468.0,1159.1 L1470.0,1161.3 L1472.0,1163.5 L1474.0,1165.8 L1476.0,1167.9 L1478.0,1170.1 L1480.0,1172.3 L1482.0,1174.4 L1484.0,1176.6 L1486.0,1178.7 L1488.0,1180.8 L1490.0,1182.9 L1492.0,1185.0 L1494.0,1187.1 L1496.0,1189.1 L1498.0,1191.2 L1500.0,1193.2 L1502.0,1195.2 L1504.0,1197.2 L1506.0,1199.2 L1508.0,1201.2 L1510.0,1203.2 L1512.0,1205.1 L1514.0,1207.1 L1516.0,1209.0 L1518.0,1210.9 L1520.0,1212.8 L1522.0,1214.7 L1524.0,1216.6 L1526.0,1218.5 L1528.0,1220.4 L1530.0,1222.2 L1532.0,1224.0 L1534.0,1225.9 L1536.0,1227.7 L1538.0,1229.5 L1540.0,1231.3 L1542.0,1233.1 L1544.0,1234.9 L1546.0,1236.6 L1548.0,1238.4 L1550.0,1240.1 L1552.0,1241.8 L1554.0,1243.6 L1556.0,1245.3 L1558.0,1247.0 L1560.0,1248.7 L1562.0,1250.3 L1564.0,1252.0 L1566.0,1253.7 L1568.0,1255.3 L1570.0,1257.0 L1572.0,1258.6 L1574.0,1260.2 L1576.0,1261.8 L1578.0,1263.5 L1580.0,1265.0 L1582.0,1266.6 L1584.0,1268.2 L1586.0,1269.8 L1588.0,1271.3 L1590.0,1272.9 L1592.0,1274.4 L1594.0,1276.0 L1596.0,1277.5 L1598.0,1279.0 L1600.0,1280.5 L1602.0,1282.0 L1604.0,1283.5 L1606.0,1285.0 L1608.0,1286.5 L1610.0,1287.9 L1612.0,1289.4 L1614.0,1290.8 L1616.0,1292.3 L1618.0,1293.7 L1620.0,1295.2 L1622.0,1296.6 L1624.0,1298.0 L1626.0,1299.4 L1628.0,1300.8 L1630.0,1302.2 L1632.0,1303.6 L1634.0,1304.9 L1636.0,1306.3 L1638.0,1307.7 L1640.0,1309.0 L1642.0,1310.3 L1644.0,1311.7 L1646.0,1313.0 L1648.0,1314.3 L1650.0,1315.6 L1652.0,1316.9 L1654.0,1318.2 L1656.0,1319.5 L1658.0,1320.8 L1660.0,1322.1 L1662.0,1323.3 L1664.0,1324.6 L1666.0,1325.8 L1668.0,1327.1 L1670.0,1328.3 L1672.0,1329.5 L1674.0,1330.8 L1676.0,1332.0 L1678.0,1333.2 L1680.0,1334.4 L1682.0,1335.6 L1684.0,1336.7 L1686.0,1337.9 L1688.0,1339.1 L1690.0,1340.2 L1692.0,1341.4 L1694.0,1342.5 L1696.0,1343.7 L1698.0,1344.8 L1700.0,1345.9 L1702.0,1347.0 L1704.0,1348.1 L1706.0,1349.2 L1708.0,1350.3 L1710.0,1351.4 L1712.0,1352.5 L1714.0,1353.6 L1716.0,1354.6 L1718.0,1355.7 L1720.0,1356.8 L1722.0,1357.8 L1724.0,1358.8 L1726.0,1359.9 L1728.0,1360.9 L1730.0,1361.9 L1732.0,1362.9 L1734.0,1363.9 L1736.0,1364.9 L1738.0,1365.9 L1740.0,1366.9 L1742.0,1367.8 L1744.0,1368.8 L1746.0,1369.8 L1748.0,1370.7 L1750.0,1371.7 L1752.0,1372.6 L1754.0,1373.5 L1756.0,1374.5 L1758.0,1375.4 L1760.0,1376.3 L1762.0,1377.2 L1764.0,1378.1 L1766.0,1379.0 L1768.0,1379.9 L1770.0,1380.8 L1772.0,1381.6 L1774.0,1382.5 L1776.0,1383.4 L1778.0,1384.2 L1780.0,1385.1 L1782.0,1385.9 L1784.0,1386.7 L1786.0,1387.6 L1788.0,1388.4 L1790.0,1389.2 L1792.0,1390.0 L1794.0,1390.8 L1796.0,1391.6 L1798.0,1392.4 L1800.0,1393.2 L1802.0,1393.9 L1804.0,1394.7 L1806.0,1395.5 L1808.0,1396.2 L1810.0,1397.0 L1812.0,1397.7 L1814.0,1398.5 L1816.0,1399.2 L1818.0,1399.9 L1820.0,1400.6 L1822.0,1401.3 L1824.0,1402.0 L1826.0,1402.7 L1828.0,1403.4 L1830.0,1404.1 L1832.0,1404.8 L1834.0,1405.5 L1836.0,1406.2 L1838.0,1406.8 L1840.0,1407.5 L1842.0,1408.1 L1844.0,1408.8 L1846.0,1409.4 L1848.0,1410.0 L1850.0,1410.7 L1852.0,1411.3 L1854.0,1411.9 L1856.0,1412.5 L1858.0,1413.1 L1860.0,1413.7 L1862.0,1414.3 L1864.0,1414.9 L1866.0,1415.5 L1868.0,1416.1 L1870.0,1416.6 L1872.0,1417.2 L1874.0,1417.8 L1876.0,1418.3 L1878.0,1418.9 L1880.0,1419.4 L1882.0,1419.9 L1884.0,1420.5 L1886.0,1421.0 L1888.0,1421.5 L1890.0,1422.1 L1892.0,1422.6 L1894.0,1423.1 L1896.0,1423.6 L1898.0,1424.1 L1900.0,1424.6 L1902.0,1425.1 L1904.0,1425.6 L1906.0,1426.1 L1908.0,1426.6 L1910.0,1427.0 L1912.0,1427.5 L1914.0,1428.0 L1916.0,1428.5 L1918.0,1428.9 L1920.0,1429.4 L1922.0,1429.9 L1924.0,1430.3 L1926.0,1430.8 L1928.0,1431.2 L1930.0,1431.7 L1932.0,1432.1 L1934.0,1432.5 L1936.0,1433.0 L1938.0,1433.4 L1940.0,1433.9 L1942.0,1434.3 L1944.0,1434.7 L1946.0,1435.1 L1948.0,1435.6 L1950.0,1436.0 L1952.0,1436.4 L1954.0,1436.8 L1956.0,1437.2 L1958.0,1437.7 L1960.0,1438.1 L1962.0,1438.5 L1964.0,1438.9 L1965.0,1439.1 L1967.0,1439.5 L1969.0,1439.8 L1971.0,1440.2 L1973.0,1440.6 L1975.0,1440.9 L1977.0,1441.3 L1979.0,1441.6 L1981.0,1441.9 L1983.0,1442.3 L1985.0,1442.6 L1987.0,1442.9 L1989.0,1443.2 L1991.0,1443.5 L1993.0,1443.8 L1995.0,1444.1 L1997.0,1444.4 L1999.0,1444.7 L2001.0,1444.9 L2003.0,1445.2 L2005.0,1445.4 L2007.0,1445.7 L2009.0,1445.9 L2011.0,1446.1 L2013.0,1446.4 L2015.0,1446.6 L2017.0,1446.8 L2019.0,1447.0 L2021.0,1447.2 L2023.0,1447.3 L2025.0,1447.5 L2027.0,1447.7 L2029.0,1447.8 L2031.0,1448.0 L2033.0,1448.1 L2035.0,1448.2 L2037.0,1448.3 L2039.0,1448.5 L2040.0,1448.5 L2042.0,1448.7 L2044.0,1448.9 L2046.0,1449.1 L2048.0,1449.2 L2050.0,1449.4 L2052.0,1449.6 L2054.0,1449.8 L2056.0,1450.0 L2058.0,1450.2 L2060.0,1450.4 L2062.0,1450.5 L2064.0,1450.7 L2066.0,1450.9 L2068.0,1451.1 L2070.0,1451.3 L2072.0,1451.5 L2074.0,1451.7 L2076.0,1451.8 L2078.0,1452.0 L2080.0,1452.2 L2082.0,1452.4 L2084.0,1452.6 L2086.0,1452.8 L2088.0,1452.9 L2090.0,1453.1 L2092.0,1453.3 L2094.0,1453.5 L2096.0,1453.7 L2098.0,1453.8 L2100.0,1454.0 L2102.0,1454.2 L2104.0,1454.4 L2106.0,1454.5 L2108.0,1454.7 L2110.0,1454.9 L2112.0,1455.1 L2114.0,1455.2 L2116.0,1455.4 L2118.0,1455.6 L2120.0,1455.7 L2122.0,1455.9 L2124.0,1456.0 L2126.0,1456.2 L2128.0,1456.4 L2130.0,1456.5 L2132.0,1456.7 L2134.0,1456.8 L2136.0,1457.0 L2138.0,1457.1 L2140.0,1457.3 L2142.0,1457.4 L2144.0,1457.5 L2146.0,1457.7 L2148.0,1457.8 L2150.0,1458.0 L2152.0,1458.1 L2154.0,1458.2 L2156.0,1458.3 L2158.0,1458.5 L2158.5,1458.5 L2162.5,1458.7" stroke="#00f"/>
</g>
<text transform="translate(559.50,1589.30) scale(1,1.04)" font-size="87.5" text-anchor="middle">400</text>
<text transform="translate(850.10,1589.30) scale(1,1.04)" font-size="87.5" text-anchor="middle">450</text>
<text transform="translate(1140.70,1589.30) scale(1,1.04)" font-size="87.5" text-anchor="middle">500</text>
<text transform="translate(1431.30,1589.30) scale(1,1.04)" font-size="87.5" text-anchor="middle">550</text>
<text transform="translate(1721.90,1589.30) scale(1,1.04)" font-size="87.5" text-anchor="middle">600</text>
<text transform="translate(2012.50,1589.30) scale(1,1.04)" font-size="87.5" text-anchor="middle">650</text>
<text transform="translate(163.5,1210.10) scale(1,1.04)" font-size="87.5">1x10<tspan font-size="59" dy="-35">7</tspan></text>
<rect x="169.48" y="1202.00" width="15.77" height="9.40" fill="#fff"/>
<rect x="193.49" y="1202.00" width="15.34" height="9.40" fill="#fff"/>
<rect x="261.89" y="1202.00" width="15.77" height="9.40" fill="#fff"/>
<rect x="285.90" y="1202.00" width="15.34" height="9.40" fill="#fff"/>
<text transform="translate(163.5,912.40) scale(1,1.04)" font-size="87.5">2x10<tspan font-size="59" dy="-35">7</tspan></text>
<rect x="261.89" y="904.30" width="15.77" height="9.40" fill="#fff"/>
<rect x="285.90" y="904.30" width="15.34" height="9.40" fill="#fff"/>
<text transform="translate(163.5,614.70) scale(1,1.04)" font-size="87.5">3x10<tspan font-size="59" dy="-35">7</tspan></text>
<rect x="261.89" y="606.60" width="15.77" height="9.40" fill="#fff"/>
<rect x="285.90" y="606.60" width="15.34" height="9.40" fill="#fff"/>
<text transform="translate(163.5,317.00) scale(1,1.04)" font-size="87.5">4x10<tspan font-size="59" dy="-35">7</tspan></text>
<rect x="261.89" y="308.90" width="15.77" height="9.40" fill="#fff"/>
<rect x="285.90" y="308.90" width="15.34" height="9.40" fill="#fff"/>
<text transform="translate(336.50,1500.90) scale(1,1.04)" font-size="87.5" text-anchor="start">0</text>
<text transform="translate(887.20,1739.00) scale(1,1.05)" font-size="92.9" text-anchor="start" class="b">W</text>
<text transform="translate(974.88,1739.00) scale(1,0.99)" font-size="92.9" text-anchor="start" class="b">avelengths (nm)</text>
<text transform="translate(130.00,1334.00) rotate(-90) scale(1,1.05)" font-size="94.5" text-anchor="start" class="b">PL I</text>
<text transform="translate(130.00,1160.73) rotate(-90) scale(1,0.99)" font-size="94.5" text-anchor="start" class="b">ntensity (counts/sec)</text>
<text transform="translate(689.30,231.00) rotate(-90) scale(1,1.04)" font-size="87.5" text-anchor="start">425</text>
<text transform="translate(765.50,407.30) rotate(-90) scale(1,1.04)" font-size="87.5" text-anchor="start">433</text>
<text transform="translate(988.00,574.80) rotate(-90) scale(1,1.04)" font-size="87.5" text-anchor="start">462</text>
<text transform="translate(1102.00,794.30) rotate(-90) scale(1,1.04)" font-size="87.5" text-anchor="start">486</text>
<rect x="1470.2" y="83.3" width="639.6" height="376" fill="#fff" stroke="#000" stroke-width="1.8"/>
<line x1="1478" y1="134.0" x2="1642.8" y2="134.0" stroke="#000" stroke-width="1.8" stroke-linecap="round"/>
<text transform="translate(1662.85,160.00) scale(1,1.05)" font-size="73.3" text-anchor="start">TPU:TPO 1:1</text>
<rect x="2005.87" y="152.95" width="13.17" height="8.35" fill="#fff"/>
<rect x="2026.02" y="152.95" width="12.85" height="8.35" fill="#fff"/>
<rect x="2067.00" y="152.95" width="13.17" height="8.35" fill="#fff"/>
<rect x="2087.15" y="152.95" width="12.85" height="8.35" fill="#fff"/>
<line x1="1478" y1="225.4" x2="1642.8" y2="225.4" stroke="#f00" stroke-width="1.8" stroke-linecap="round"/>
<text transform="translate(1662.85,251.40) scale(1,1.05)" font-size="73.3" text-anchor="start">TPU:TPO 2:1</text>
<rect x="2067.00" y="244.35" width="13.17" height="8.35" fill="#fff"/>
<rect x="2087.15" y="244.35" width="12.85" height="8.35" fill="#fff"/>
<line x1="1478" y1="316.85" x2="1642.8" y2="316.85" stroke="#0f0" stroke-width="1.8" stroke-linecap="round"/>
<text transform="translate(1662.85,342.85) scale(1,1.05)" font-size="73.3" text-anchor="start">TPU:TPO 4:1</text>
<rect x="2067.00" y="335.80" width="13.17" height="8.35" fill="#fff"/>
<rect x="2087.15" y="335.80" width="12.85" height="8.35" fill="#fff"/>
<line x1="1478" y1="408.25" x2="1642.8" y2="408.25" stroke="#00f" stroke-width="1.8" stroke-linecap="round"/>
<text transform="translate(1662.85,434.25) scale(1,1.05)" font-size="73.3" text-anchor="start">TPU:TPO 6:1</text>
<rect x="2067.00" y="427.20" width="13.17" height="8.35" fill="#fff"/>
<rect x="2087.15" y="427.20" width="12.85" height="8.35" fill="#fff"/>
</svg></body></html>
